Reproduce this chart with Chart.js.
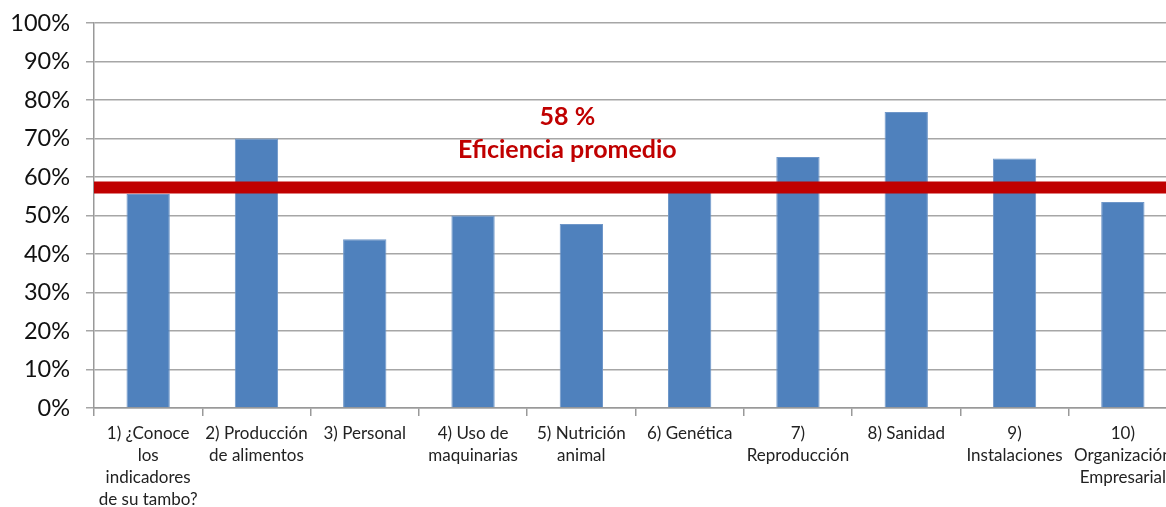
<!DOCTYPE html>
<html>
<head>
<meta charset="utf-8">
<script src="https://cdn.jsdelivr.net/npm/chart.js@4"></script>
<style>
  html, body { margin: 0; padding: 0; background: #fff; overflow: hidden; }
  #wrap { width: 1180px; height: 507px; }
</style>
</head>
<body>
<div id="wrap"><canvas id="chart"></canvas></div>
<script>
const categories = [
    ['1) ¿Conoce', 'los', 'indicadores', 'de su tambo?'],
    ['2) Producción', 'de alimentos'],
    '3) Personal',
    ['4) Uso de', 'maquinarias'],
    ['5) Nutrición', 'animal'],
    '6) Genética',
    ['7)', 'Reproducción'],
    '8) Sanidad',
    ['9)', 'Instalaciones'],
    ['10)', 'Organización', 'Empresarial']
];
const efficiency = [55.6, 70, 43.8, 50, 47.8, 58, 65.2, 76.9, 64.8, 53.5];
const averageLine = 57.3;
const averageLabels = ['58 %', 'Eficiencia promedio'];
const yTicks = [0, 10, 20, 30, 40, 50, 60, 70, 80, 90, 100];

const averagePlugin = {
    id: 'average',
    afterDatasetsDraw(chart) {
        const { ctx, chartArea, scales } = chart;
        const y = scales.y.getPixelForValue(averageLine);
        ctx.save();
        ctx.strokeStyle = '#C00000';
        ctx.lineWidth = 12;
        ctx.beginPath();
        ctx.moveTo(chartArea.left, y);
        ctx.lineTo(chartArea.right, y);
        ctx.stroke();

        ctx.fillStyle = '#C00000';
        ctx.font = 'bold 25px Lato';
        ctx.textAlign = 'center';
        ctx.textBaseline = 'middle';
        const x = scales.x.getPixelForValue(4) - 14;
        ctx.fillText(averageLabels[0], x, scales.y.getPixelForValue(75.6));
        ctx.fillText(averageLabels[1], x, scales.y.getPixelForValue(67.1));
        ctx.restore();
    }
};

new Chart(document.getElementById('chart'), {
    type: 'bar',
    data: {
        labels: categories,
        datasets: [{
            data: efficiency,
            backgroundColor: '#4F81BD',
            borderColor: '#6f97c9',
            borderWidth: 1,
            barPercentage: 0.4,
            categoryPercentage: 1
        }]
    },
    options: {
        responsive: true,
        maintainAspectRatio: false,
        animation: false,
        layout: { padding: { top: 0, right: 3, left: 0, bottom: 0 } },
        plugins: { legend: { display: false }, tooltip: { enabled: false } },
        scales: {
            x: {
                grid: { display: true, drawOnChartArea: false, color: '#999', lineWidth: 1.5, tickLength: 8, offset: true },
                border: { color: '#999', width: 1.5 },
                ticks: { color: '#222', font: { family: 'Lato', size: 17, lineHeight: 1.3 }, maxRotation: 0, minRotation: 0, autoSkip: false, padding: 6 },
                afterFit(scale) { scale.height = 99; }
            },
            y: {
                min: 0, max: 100,
                afterBuildTicks(scale) { scale.ticks = yTicks.map(v => ({ value: v })); },
                grid: { color: '#a6a6a6', lineWidth: 1.5, tickLength: 8 },
                border: { color: '#999', width: 1.5 },
                ticks: { color: '#111', font: { family: 'Lato', size: 23.5 }, padding: 16, callback: v => v + '%' },
                afterFit(scale) {
                    scale.width = 94;
                    scale.paddingTop = 23;
                    scale.paddingBottom = 0;
                }
            }
        }
    },
    plugins: [averagePlugin]
});
</script>
</body>
</html>
